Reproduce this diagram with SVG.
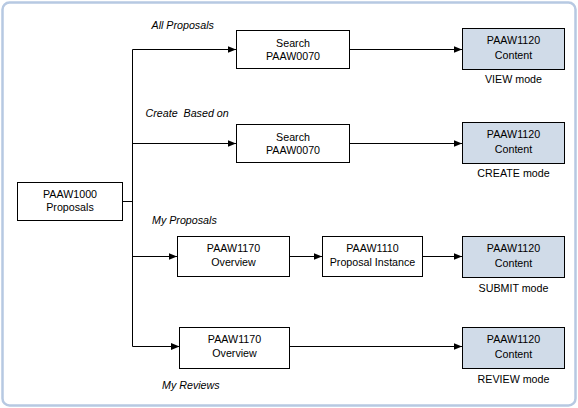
<svg xmlns="http://www.w3.org/2000/svg" width="578" height="408" viewBox="0 0 578 408">
<defs>
<marker id="ah" markerWidth="9" markerHeight="8" refX="8.5" refY="4" orient="auto" markerUnits="userSpaceOnUse">
<path d="M0,0.5 L8.5,4 L0,7.5 Z" fill="#000"/>
</marker>
</defs>
<style>
.box{fill:#fff;stroke:#000;stroke-width:1}
.cbox{fill:#d0dbe8;stroke:#000;stroke-width:1}
text{font-family:"Liberation Sans",Arial,sans-serif;font-size:10.7px;fill:#000}
.c{text-anchor:middle}
.i{font-style:italic;white-space:pre}
.ln{fill:none;stroke:#000;stroke-width:1}
</style>
<rect x="2.5" y="2.5" width="573" height="403" rx="7" fill="#fff" stroke="#b7c9e2" stroke-width="2.5"/>

<g id="connectors">
<path class="ln" d="M123,201.5 H132.5"/>
<path class="ln" d="M132.5,49.5 V346.5"/>
<path class="ln" d="M132.5,49.5 H236" marker-end="url(#ah)"/>
<path class="ln" d="M132.5,143.5 H236" marker-end="url(#ah)"/>
<path class="ln" d="M132.5,256.5 H177" marker-end="url(#ah)"/>
<path class="ln" d="M132.5,346.5 H179.5" marker-end="url(#ah)"/>
<path class="ln" d="M349.5,49.5 H462" marker-end="url(#ah)"/>
<path class="ln" d="M349.5,143.5 H462" marker-end="url(#ah)"/>
<path class="ln" d="M289.5,256.5 H322" marker-end="url(#ah)"/>
<path class="ln" d="M422.5,256.5 H462" marker-end="url(#ah)"/>
<path class="ln" d="M289.5,346.5 H462" marker-end="url(#ah)"/>
</g>

<g id="labels">
<text class="i" x="151.5" y="29">All Proposals</text>
<text class="i" x="145.5" y="117" xml:space="preserve">Create  Based on</text>
<text class="i" x="152" y="224">My Proposals</text>
<text class="i" x="162" y="389">My Reviews</text>
</g>

<g id="n1000">
<rect class="box" x="17.5" y="182.5" width="105" height="38"/>
<text class="c" x="70" y="198">PAAW1000</text>
<text class="c" x="70" y="211">Proposals</text>
</g>

<g id="search1">
<rect class="box" x="236.5" y="30.5" width="113" height="38"/>
<text class="c" x="293" y="46.5">Search</text>
<text class="c" x="293" y="59.5">PAAW0070</text>
</g>
<g id="content1">
<rect class="cbox" x="462.5" y="28.5" width="102" height="41"/>
<text class="c" x="513.5" y="44">PAAW1120</text>
<text class="c" x="513.5" y="59">Content</text>
<text class="c" x="513.5" y="83">VIEW mode</text>
</g>

<g id="search2">
<rect class="box" x="236.5" y="124.5" width="113" height="38"/>
<text class="c" x="293" y="140.5">Search</text>
<text class="c" x="293" y="153.5">PAAW0070</text>
</g>
<g id="content2">
<rect class="cbox" x="462.5" y="122.5" width="102" height="41"/>
<text class="c" x="513.5" y="138">PAAW1120</text>
<text class="c" x="513.5" y="153">Content</text>
<text class="c" x="513.5" y="177">CREATE mode</text>
</g>

<g id="overview1">
<rect class="box" x="177.5" y="236.5" width="112" height="40"/>
<text class="c" x="233.5" y="252">PAAW1170</text>
<text class="c" x="233.5" y="266">Overview</text>
</g>
<g id="instance">
<rect class="box" x="322.5" y="236.5" width="100" height="40"/>
<text class="c" x="372.5" y="252">PAAW1110</text>
<text class="c" x="372.5" y="266">Proposal Instance</text>
</g>
<g id="content3">
<rect class="cbox" x="462.5" y="236.5" width="102" height="41"/>
<text class="c" x="513.5" y="252">PAAW1120</text>
<text class="c" x="513.5" y="267">Content</text>
<text class="c" x="513.5" y="292">SUBMIT mode</text>
</g>

<g id="overview2">
<rect class="box" x="179.5" y="327.5" width="110" height="41"/>
<text class="c" x="234.5" y="343">PAAW1170</text>
<text class="c" x="234.5" y="357">Overview</text>
</g>
<g id="content4">
<rect class="cbox" x="462.5" y="327.5" width="102" height="41"/>
<text class="c" x="513.5" y="343">PAAW1120</text>
<text class="c" x="513.5" y="358">Content</text>
<text class="c" x="513.5" y="383">REVIEW mode</text>
</g>
</svg>
